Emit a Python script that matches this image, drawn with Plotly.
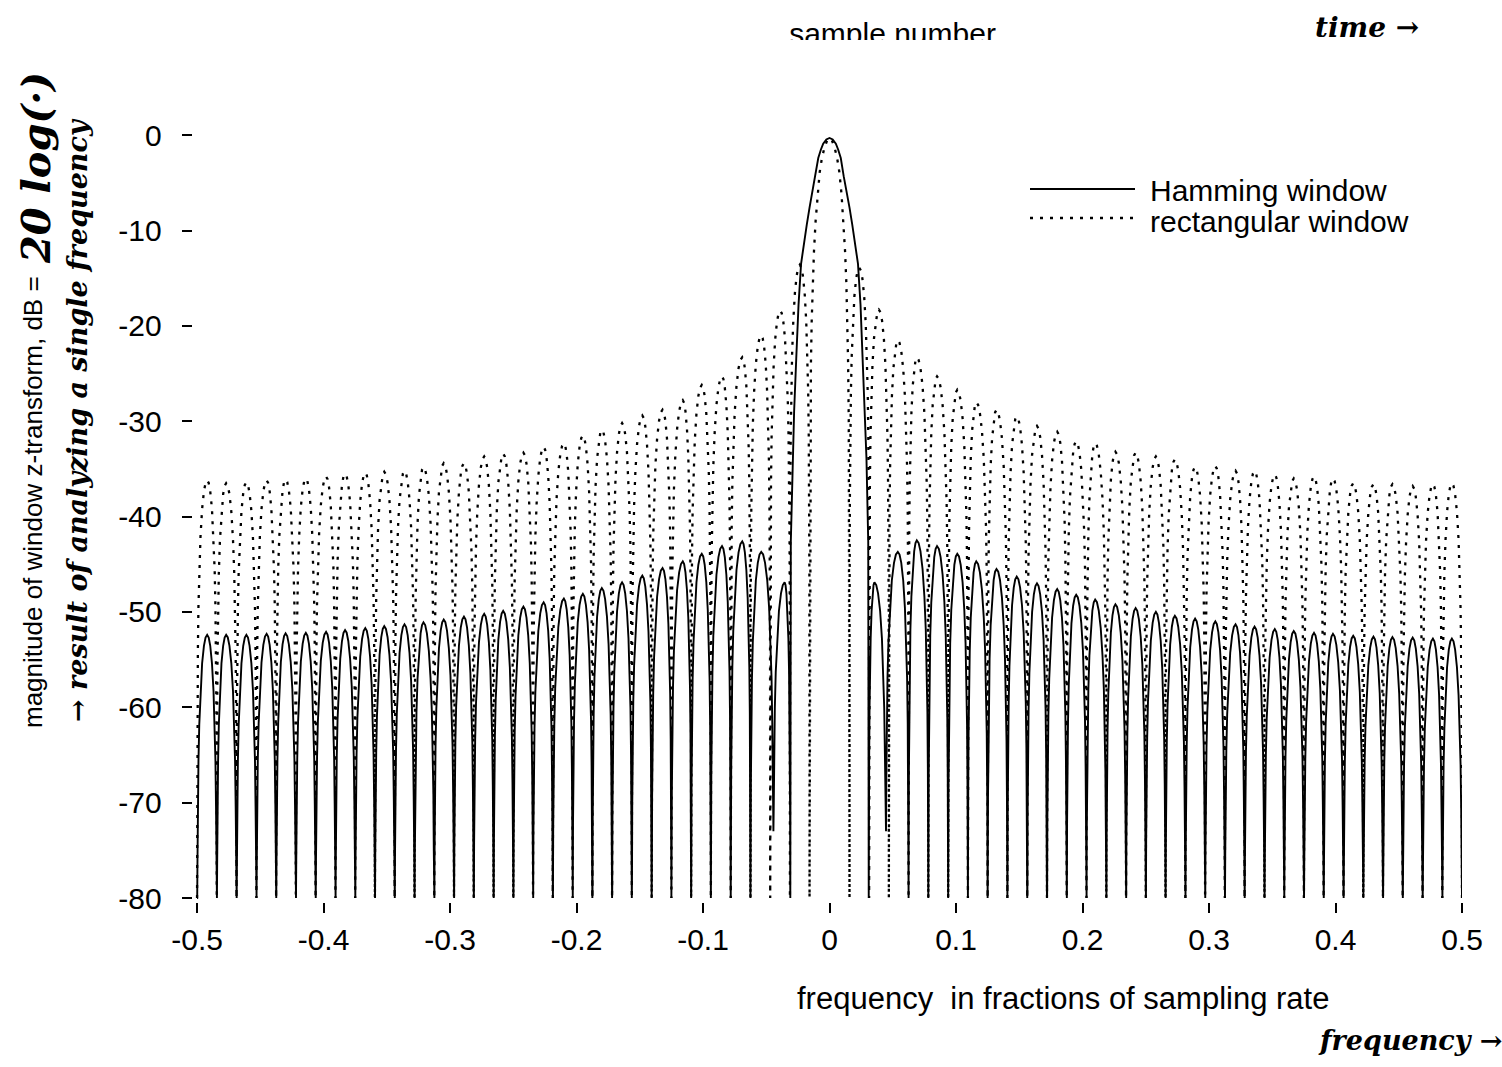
import plotly.graph_objects as go

# ---------------- data ----------------
# frequency in fractions of the sampling rate, level in dB
FLOOR_DB = -80
Y_TICKS = [0, -10, -20, -30, -40, -50, -60, -70, -80]
X_TICKS = [-0.5, -0.4, -0.3, -0.2, -0.1, 0, 0.1, 0.2, 0.3, 0.4, 0.5]
X_TICKTEXT = ["-0.5", "-0.4", "-0.3", "-0.2", "-0.1", "0", "0.1", "0.2", "0.3", "0.4", "0.5"]

# Hamming window: main lobe (offset from 0, level), symmetric
ham_main_off = [0.0, 0.0025, 0.0050, 0.0068, 0.0089, 0.0112, 0.0136, 0.0158, 0.0180, 0.0203,
                0.0225, 0.0245, 0.0263, 0.0280, 0.0292, 0.0306, 0.0310]
ham_main_db = [-0.3, -0.45, -0.9, -1.5, -2.4, -4.3, -5.9, -7.6, -9.4, -11.3,
               -13.5, -17.8, -23.4, -29.0, -33.9, -42.6, -80]

# Hamming side lobes (positive frequencies; the negative side mirrors the positions)
ham_peak_f = [0.0355, 0.054, 0.069, 0.085, 0.101, 0.116, 0.132, 0.148, 0.164, 0.180,
              0.195, 0.210, 0.226, 0.242, 0.258, 0.273, 0.289, 0.305, 0.321, 0.336,
              0.352, 0.367, 0.383, 0.398, 0.414, 0.430, 0.445, 0.461, 0.477, 0.492]
ham_peak_db_pos = [-46.9, -43.7, -42.5, -43.1, -43.9, -44.7, -45.5, -46.3, -47.0, -47.6,
                   -48.2, -48.7, -49.2, -49.6, -50.0, -50.4, -50.7, -51.0, -51.3, -51.55,
                   -51.8, -52.0, -52.2, -52.3, -52.5, -52.6, -52.65, -52.7, -52.8, -52.8]
ham_peak_db_neg = [-46.9, -43.7, -42.6, -43.1, -43.9, -44.7, -45.4, -46.2, -46.9, -47.5,
                   -48.1, -48.6, -49.0, -49.45, -49.9, -50.2, -50.5, -50.8, -51.1, -51.3,
                   -51.5, -51.7, -51.9, -52.1, -52.2, -52.25, -52.3, -52.4, -52.4, -52.4]
ham_null_f = [0.031, 0.0445, 0.0625, 0.0781, 0.0938, 0.1094, 0.125, 0.1406, 0.1563, 0.1719,
              0.1875, 0.2031, 0.2188, 0.2344, 0.25, 0.2656, 0.2813, 0.2969, 0.3125, 0.3281,
              0.3438, 0.3594, 0.375, 0.3906, 0.4063, 0.4219, 0.4375, 0.4531, 0.4688, 0.4844, 0.5]
ham_null_db = [-80, -73] + [-80] * 29

# Rectangular window: main lobe (offset from 0, level), symmetric
rect_main_off = [0.0, 0.0020, 0.0040, 0.0060, 0.0078, 0.0095, 0.0110, 0.0123, 0.0133, 0.0141,
                 0.0147, 0.0152, 0.0158]
rect_main_db = [-0.3, -0.6, -1.3, -2.4, -3.9, -6.2, -9.0, -12.2, -15.5, -19.5,
                -24.0, -30.0, -80]

rect_peak_f = [0.0235, 0.039, 0.054, 0.069, 0.085, 0.101, 0.116, 0.132, 0.148, 0.164,
               0.180, 0.195, 0.210, 0.226, 0.242, 0.258, 0.273, 0.289, 0.305, 0.321,
               0.336, 0.352, 0.367, 0.383, 0.398, 0.414, 0.430, 0.445, 0.461, 0.477, 0.492]
rect_peak_db_pos = [-13.9, -18.3, -21.5, -23.3, -25.3, -26.7, -28.0, -28.8, -29.5, -30.5,
                    -31.1, -32.1, -32.3, -33.2, -33.3, -33.7, -34.0, -34.8, -34.7, -35.2,
                    -35.2, -35.6, -36.0, -35.8, -36.0, -36.5, -36.6, -36.6, -36.8, -36.6, -36.5]
rect_peak_db_neg = [-13.6, -18.4, -21.0, -23.3, -25.3, -26.2, -27.8, -28.8, -29.4, -30.2,
                    -30.9, -31.5, -32.3, -32.7, -33.3, -33.4, -33.7, -34.4, -34.4, -34.8,
                    -35.2, -35.3, -35.4, -35.5, -35.8, -36.0, -36.1, -36.2, -36.4, -36.5, -36.2]
rect_null_f = [0.0158, 0.0313, 0.0469, 0.0625, 0.0781, 0.0938, 0.1094, 0.125, 0.1406, 0.1563,
               0.1719, 0.1875, 0.2031, 0.2188, 0.2344, 0.25, 0.2656, 0.2813, 0.2969, 0.3125,
               0.3281, 0.3438, 0.3594, 0.375, 0.3906, 0.4063, 0.4219, 0.4375, 0.4531, 0.4688,
               0.4844, 0.5]
rect_null_db = [-80] * 32

# shape of one side lobe as seen in the picture: fraction of the lobe width from the null
# and the drop below the lobe's peak (None = the null itself)
LOBE_T = [0.0, 0.008, 0.02, 0.04, 0.07, 0.11, 0.17, 0.25, 0.34, 0.42, 0.5]
LOBE_DROP = [None, -32.0, -24.0, -18.0, -13.2, -9.4, -5.9, -3.0, -1.15, -0.28, 0.0]


def build_side(peak_f, peak_db, null_f, null_db):
    xs, ys = [], []
    for i, (pf, pdb) in enumerate(zip(peak_f, peak_db)):
        a, b = null_f[i], null_f[i + 1]
        na, nb = null_db[i], null_db[i + 1]
        for t, d in zip(LOBE_T, LOBE_DROP):
            xs.append(a + (pf - a) * t / 0.5)
            ys.append(na if d is None else max(pdb + d, na))
        for t, d in zip(reversed(LOBE_T[:-1]), reversed(LOBE_DROP[:-1])):
            xs.append(pf + (b - pf) * (1 - t / 0.5))
            ys.append(nb if d is None else max(pdb + d, nb))
    return xs, ys


def build_curve(main_off, main_db, peak_f, db_pos, db_neg, null_f, null_db):
    xr, yr = build_side(peak_f, db_pos, null_f, null_db)
    xl, yl = build_side(peak_f, db_neg, null_f, null_db)
    xl = [-v for v in reversed(xl)]
    yl = list(reversed(yl))
    xm = [-v for v in reversed(main_off)] + main_off[1:]
    ym = list(reversed(main_db)) + main_db[1:]
    return xl + xm + xr, yl + ym + yr


ham_x, ham_y = build_curve(ham_main_off, ham_main_db, ham_peak_f, ham_peak_db_pos,
                           ham_peak_db_neg, ham_null_f, ham_null_db)
rect_x, rect_y = build_curve(rect_main_off, rect_main_db, rect_peak_f, rect_peak_db_pos,
                             rect_peak_db_neg, rect_null_f, rect_null_db)

# ---------------- figure ----------------
W, H = 1502, 1067
ML, MR, MB = 193, 40, 165
PH = H - MB  # paper height (top margin 0)
PW = W - ML - MR


def xp(px):
    return (px - ML) / PW


def yp(py):
    return (PH - py) / PH


FONT = "Liberation Sans, Arial, Helvetica, sans-serif"
HAND = "DejaVu Serif, serif"
DOT = "3px,7px"

fig = go.Figure()
fig.add_trace(go.Scatter(x=rect_x, y=rect_y, mode="lines", name="rectangular window",
                         line=dict(color="black", width=2.3, dash=DOT),
                         showlegend=False, hoverinfo="skip"))
fig.add_trace(go.Scatter(x=ham_x, y=ham_y, mode="lines", name="Hamming window",
                         line=dict(color="black", width=1.9),
                         showlegend=False, hoverinfo="skip"))
# clipped heading at the very top
fig.add_trace(go.Scatter(x=[0.0498], y=[0.1], mode="text", text=["sample number"],
                         textposition="middle center",
                         textfont=dict(family=FONT, size=30, color="black"),
                         xaxis="x2", yaxis="y2", showlegend=False, hoverinfo="skip",
                         cliponaxis=True))

axis_common = dict(showgrid=False, zeroline=False, showline=False, ticks="outside",
                   tickcolor="black", tickwidth=1.5, ticklen=10,
                   tickfont=dict(family=FONT, size=30, color="black"))

fig.update_layout(
    width=W, height=H,
    margin=dict(l=ML, r=MR, t=0, b=MB, pad=0),
    paper_bgcolor="white", plot_bgcolor="white",
    xaxis=dict(range=[-0.5032, 0.5], domain=[0, 1], anchor="y",
               tickvals=X_TICKS, ticktext=X_TICKTEXT, ticklabelstandoff=1, **axis_common),
    yaxis=dict(range=[-80.42, 4], domain=[0, (PH - 97) / PH], anchor="x",
               tickvals=Y_TICKS, ticktext=[str(v) + " " for v in Y_TICKS],
               ticklabelstandoff=6, **axis_common),
    xaxis2=dict(range=[-0.5032, 0.5], domain=[0, 1], anchor="y2", visible=False),
    yaxis2=dict(range=[0, 1], domain=[(PH - 40) / PH, 1], anchor="x2", visible=False),
)

# legend drawn by hand (long line samples)
fig.add_shape(type="line", xref="paper", yref="paper", x0=xp(1030), x1=xp(1135),
              y0=yp(189), y1=yp(189), line=dict(color="black", width=1.9))
fig.add_shape(type="line", xref="paper", yref="paper", x0=xp(1030), x1=xp(1135),
              y0=yp(218), y1=yp(218), line=dict(color="black", width=2.3, dash=DOT))

ann = []
ann.append(dict(text="Hamming window", x=xp(1148), y=yp(190), xanchor="left", yanchor="middle",
                font=dict(family=FONT, size=30, color="black")))
ann.append(dict(text="rectangular window", x=xp(1148), y=yp(221), xanchor="left", yanchor="middle",
                font=dict(family=FONT, size=30, color="black")))
ann.append(dict(text="frequency\u00a0 in fractions of sampling rate", x=xp(1063), y=yp(998),
                xanchor="center", yanchor="middle", font=dict(family=FONT, size=31, color="black")))
ann.append(dict(text="<i><b>frequency →</b></i>", x=xp(1410), y=yp(1040), xanchor="center",
                yanchor="middle", font=dict(family=HAND, size=27, color="black")))
ann.append(dict(text="<i><b>time →</b></i>", x=xp(1367), y=yp(28), xanchor="center",
                yanchor="middle", font=dict(family=HAND, size=28, color="black")))
ann.append(dict(text="magnitude of window z-transform, dB =", x=xp(33), y=yp(502),
                xanchor="center", yanchor="middle", textangle=-90,
                font=dict(family=FONT, size=26, color="black")))
ann.append(dict(text="<i><b>20 log(·)</b></i>", x=xp(35), y=yp(168),
                xanchor="center", yanchor="middle", textangle=-90,
                font=dict(family=HAND, size=40, color="black")))
ann.append(dict(text="<i><b>→ result of analyzing a single frequency</b></i>", x=xp(78), y=yp(420),
                xanchor="center", yanchor="middle", textangle=-90,
                font=dict(family=HAND, size=27, color="black")))
for a in ann:
    a.update(xref="paper", yref="paper", showarrow=False)
fig.update_layout(annotations=ann)

fig.write_html("out.html")
